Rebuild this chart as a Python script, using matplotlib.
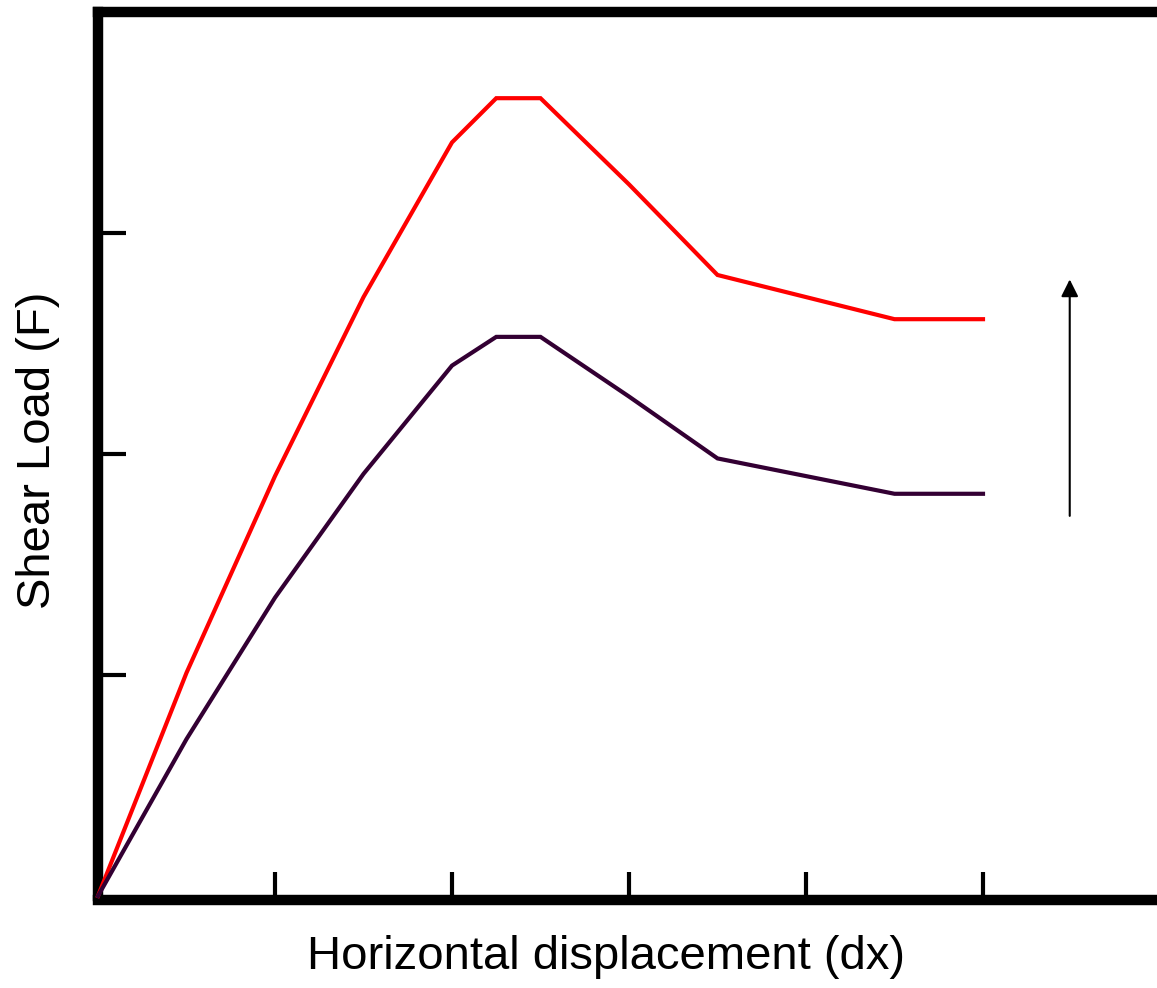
import numpy as np
import matplotlib.pyplot as plt

plt.rcParams['font.family'] = ['Liberation Sans', 'DejaVu Sans']

# displacement (tick units) and shear load readings for the two curves
dx = [0, 0.5, 1.0, 1.5, 2.0, 2.25, 2.5, 3.0, 3.5, 4.5, 5.0]
load_high = [0, 1.01, 1.90, 2.71, 3.41, 3.61, 3.61, 3.22, 2.81, 2.61, 2.61]
load_low = [0, 0.71, 1.35, 1.91, 2.40, 2.53, 2.53, 2.26, 1.98, 1.82, 1.82]

xticks = [0, 1, 2, 3, 4, 5]
yticks = [1, 2, 3, 4]

W, H = 1157, 988
fig = plt.figure(figsize=(W / 100, H / 100), dpi=100)
# axes run off the right edge of the figure, like the original
ax = fig.add_axes([98 / W, (H - 896) / H, 1070 / W, (896 - 12) / H])

ax.plot(dx, load_high, color='#ff0000', lw=3, solid_joinstyle='miter', zorder=3, clip_on=False)
ax.plot(dx, load_low, color='#330033', lw=3, solid_joinstyle='miter', zorder=3, clip_on=False)

# arrow on the right side
ax.annotate('', xy=(5.49, 2.79), xytext=(5.49, 1.72),
            arrowprops=dict(arrowstyle='-|>', color='black', lw=1.5,
                            mutation_scale=26, shrinkA=0, shrinkB=0))

ax.set_xlim(0, 1070 / 177)
ax.set_ylim(0, 4)
ax.set_xticks(xticks)
ax.set_yticks(yticks)
ax.set_xticklabels([])
ax.set_yticklabels([])
ax.tick_params(direction='in', length=20, width=3, color='black')

for side in ['left', 'bottom', 'top']:
    ax.spines[side].set_linewidth(7.5)
    ax.spines[side].set_color('black')
ax.spines['right'].set_visible(False)
ax.spines['bottom'].set_position(('outward', 3))

fig.text(606 / W, (H - 957) / H, 'Horizontal displacement (dx)',
         fontsize=34, ha='center', va='center')
fig.text(38 / W, (H - 450) / H, 'Shear Load (F)', fontsize=34,
         rotation=90, ha='center', va='center')

plt.savefig('out.png', dpi=100)
